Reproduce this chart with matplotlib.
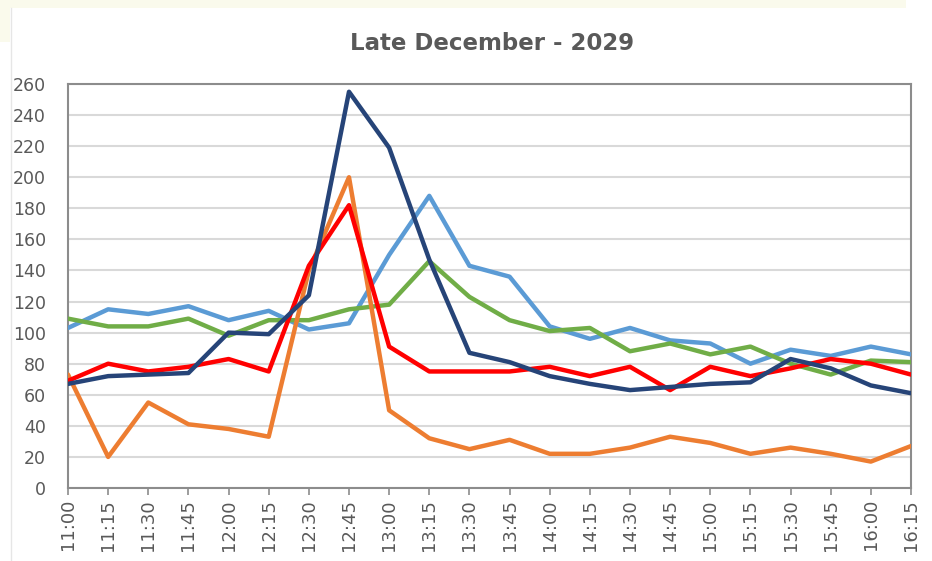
import matplotlib
matplotlib.use("Agg")
import matplotlib.pyplot as plt
from matplotlib.patches import Rectangle
from matplotlib.lines import Line2D

times = ["11:00", "11:15", "11:30", "11:45", "12:00", "12:15", "12:30", "12:45",
         "13:00", "13:15", "13:30", "13:45", "14:00", "14:15", "14:30", "14:45",
         "15:00", "15:15", "15:30", "15:45", "16:00", "16:15"]

light_blue = [103, 115, 112, 117, 108, 114, 102, 106, 150, 188, 143, 136, 104, 96,
              103, 95, 93, 80, 89, 85, 91, 86]
green = [109, 104, 104, 109, 98, 108, 108, 115, 118, 146, 123, 108, 101, 103,
         88, 93, 86, 91, 80, 73, 82, 81]
orange = [73, 20, 55, 41, 38, 33, 140, 200, 50, 32, 25, 31, 22, 22,
          26, 33, 29, 22, 26, 22, 17, 27]
red = [69, 80, 75, 78, 83, 75, 143, 182, 91, 75, 75, 75, 78, 72,
       78, 63, 78, 72, 77, 83, 80, 73]
navy = [67, 72, 73, 74, 100, 99, 124, 255, 219, 147, 87, 81, 72, 67,
        63, 65, 67, 68, 83, 77, 66, 61]

yticks = list(range(0, 261, 20))
title = "Late December - 2029"

W, H = 932, 561
fig = plt.figure(figsize=(W / 100, H / 100), dpi=100)
fig.patch.set_facecolor("white")

# decorative background elements
fig.patches.append(Rectangle((0, 1 - 8 / H), 906 / W, 8 / H, transform=fig.transFigure,
                             facecolor="#FAFAEC", edgecolor="none", zorder=0))
fig.patches.append(Rectangle((0, 1 - 42 / H), 10 / W, 42 / H, transform=fig.transFigure,
                             facecolor="#FAFAEC", edgecolor="none", zorder=0))
fig.lines.append(Line2D([11 / W, 11 / W], [0, 1 - 8 / H], transform=fig.transFigure,
                        color="#E6E6E6", lw=1, zorder=1))

ax = fig.add_axes([68 / W, 1 - 488 / H, (911 - 68) / W, (488 - 84) / H])
x = list(range(len(times)))

series = [
    (light_blue, "#5B9BD5"),
    (green, "#70AD47"),
    (orange, "#ED7D31"),
    (red, "#FF0000"),
    (navy, "#264478"),
]
for vals, col in series:
    ax.plot(x, vals, color=col, lw=3.2, solid_joinstyle="round",
            solid_capstyle="round", zorder=3)

ax.set_xlim(0, len(times) - 1)
ax.set_ylim(0, 260)
ax.set_yticks(yticks)
ax.set_yticklabels([str(v) for v in yticks])
ax.set_xticks(x)
ax.set_xticklabels(times, rotation=90)

ax.grid(axis="y", color="#D9D9D9", lw=1.5, zorder=0)
ax.set_axisbelow(True)
for s in ax.spines.values():
    s.set_color("#8C8C8C")
    s.set_linewidth(1.5)

ax.tick_params(axis="y", length=0, pad=16, labelsize=12.5, labelcolor="#595959")
ax.tick_params(axis="x", length=5, width=1.2, color="#8C8C8C", pad=3,
               labelsize=13, labelcolor="#595959")

fig.text(492 / W, 1 - 43 / H, title, ha="center", va="center",
         fontsize=16.5, fontweight="bold", color="#595959")

fig.savefig("out.png", dpi=100)
